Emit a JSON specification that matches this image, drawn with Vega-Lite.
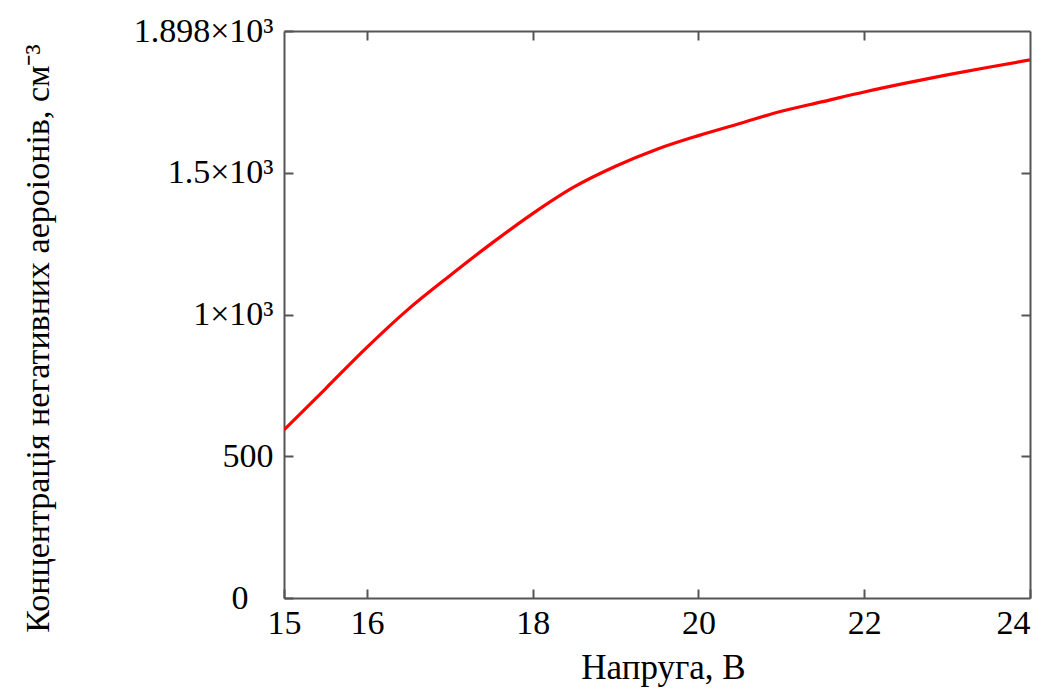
{
  "$schema": "https://vega.github.io/schema/vega-lite/v6.json",
  "width": 746,
  "height": 567,
  "autosize": {"type": "none"},
  "padding": {"left": 284, "top": 31, "right": 11, "bottom": 91},
  "background": "white",
  "config": {
    "view": {"stroke": null},
    "font": "Liberation Serif",
    "axis": {
      "domainColor": "#555555",
      "domainWidth": 2,
      "tickColor": "#555555",
      "tickWidth": 2,
      "tickSize": -9,
      "grid": false,
      "labelFont": "Liberation Serif",
      "labelFontSize": 34,
      "labelColor": "#000000",
      "titleFont": "Liberation Serif",
      "titleFontSize": 34,
      "titleFontWeight": "normal",
      "titleColor": "#000000"
    }
  },
  "data": {
    "values": [
      {"v": 15.0, "n": 593},
      {"v": 15.5, "n": 738},
      {"v": 16.0, "n": 884},
      {"v": 16.5, "n": 1019},
      {"v": 17.0, "n": 1137},
      {"v": 17.5, "n": 1250},
      {"v": 18.0, "n": 1356},
      {"v": 18.5, "n": 1450},
      {"v": 19.0, "n": 1523},
      {"v": 19.5, "n": 1583},
      {"v": 20.0, "n": 1631},
      {"v": 20.5, "n": 1674},
      {"v": 21.0, "n": 1717},
      {"v": 21.5, "n": 1751},
      {"v": 22.0, "n": 1785},
      {"v": 22.5, "n": 1816},
      {"v": 23.0, "n": 1845},
      {"v": 23.5, "n": 1872},
      {"v": 24.0, "n": 1898}
    ]
  },
  "layer": [
    {
      "mark": {"type": "line", "color": "#ff0000", "strokeWidth": 3.2, "interpolate": "monotone", "clip": true},
      "encoding": {
        "x": {
          "field": "v", "type": "quantitative",
          "scale": {"domain": [15, 24], "nice": false, "zero": false},
          "axis": {
            "orient": "bottom",
            "values": [15, 16, 18, 20, 22, 24],
            "labelPadding": 17,
            "labelFlush": false,
            "labelAlign": {"expr": "datum.value == 24 ? 'right' : 'center'"},
            "title": "Напруга, В",
            "titleFontSize": 35,
            "titleX": 379,
            "titleY": 80,
            "titleAlign": "center",
            "titleBaseline": "alphabetic"
          }
        },
        "y": {
          "field": "n", "type": "quantitative",
          "scale": {"domain": [0, 2000], "nice": false},
          "axis": {
            "orient": "left",
            "values": [0, 500, 1000, 1500, 2000],
            "labelExpr": "datum.value == 2000 ? '1.898×10³' : datum.value == 1500 ? '1.5×10³' : datum.value == 1000 ? '1×10³' : datum.value == 500 ? '500' : '0\u2800'",
            "labelPadding": 20,
            "labelFlush": false,
            "title": "Концентрація негативних аероіонів, см⁻³",
            "titleAngle": -90,
            "titleX": -246,
            "titleY": 307,
            "titleBaseline": "middle",
            "titleAlign": "center"
          }
        }
      }
    },
    {
      "mark": {"type": "line", "opacity": 0},
      "encoding": {
        "x": {
          "field": "v", "type": "quantitative",
          "axis": {"orient": "top", "values": [16, 18, 20, 22], "labels": false, "title": null}
        },
        "y": {
          "field": "n", "type": "quantitative",
          "axis": {"orient": "right", "values": [500, 1000, 1500], "labels": false, "title": null}
        }
      }
    }
  ],
  "resolve": {"axis": {"x": "independent", "y": "independent"}}
}
